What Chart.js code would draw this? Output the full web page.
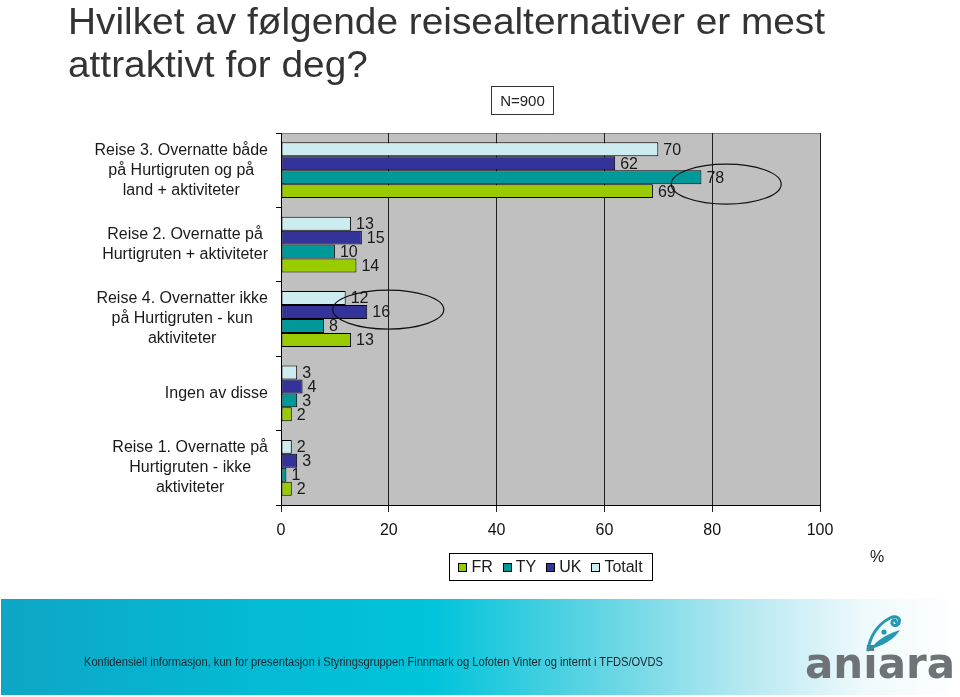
<!DOCTYPE html>
<html>
<head>
<meta charset="utf-8">
<script src="https://cdn.jsdelivr.net/npm/chart.js@4.4.0/dist/chart.umd.min.js"></script>
<style>
  html, body { margin:0; padding:0; background:#fff; }
  body { width:960px; height:697px; position:relative; overflow:hidden; font-family:"Liberation Sans", Arial, sans-serif; }
  #c { position:absolute; left:0; top:0; }
  .title { position:absolute; left:68px; top:0px; font-size:36px; line-height:43px; color:#333; white-space:nowrap; transform-origin:left top; transform:scaleX(1.078); }
  .nbox { position:absolute; left:491px; top:86px; width:61px; height:27px; border:1px solid #333; font-size:15px; line-height:27px; text-align:center; color:#222; }
  .footer { position:absolute; left:1px; top:599px; width:959px; height:96px;
    background:linear-gradient(to right, #0ea6c5 0%, #04b9d3 25%, #00c4da 45%, #5fd4e3 62%, #b8e9f1 78%, #eef9fb 90%, #ffffff 100%); }
  .ftext { position:absolute; left:84px; top:654px; font-size:13px; line-height:15px; color:#1b2630; white-space:nowrap; transform-origin:left top; display:inline-block; }
  .logo { position:absolute; left:805px; top:640px; font-family:"DejaVu Sans", sans-serif; font-weight:bold; font-size:42px; line-height:48px; color:#6e7377; letter-spacing:0px; }
  .swirl { position:absolute; left:864px; top:612px; }
</style>
</head>
<body>
<div class="footer"></div>
<canvas id="c" width="960" height="697"></canvas>
<div class="title">Hvilket av følgende reisealternativer er mest<br>attraktivt for deg?</div>
<div class="nbox">N=900</div>
<span class="ftext" id="ft">Konfidensiell informasjon, kun for presentasjon i Styringsgruppen Finnmark og Lofoten Vinter og internt i TFDS/OVDS</span>
<div class="logo">aniara</div>
<svg class="swirl" width="40" height="40" viewBox="0 0 40 40">
  <path d="M4 38 C 6 24, 14 12, 26 6 C 32 3, 37 6, 35 11 C 33 15, 27 14, 28 10 C 29 7, 32 8, 32 10" fill="none" stroke="#2597b3" stroke-width="3" stroke-linecap="round"/>
  <path d="M6 37 C 16 35, 30 28, 36 18 C 26 21, 15 26, 6 37 Z" fill="#2597b3"/>
  <circle cx="20" cy="20" r="2.6" fill="#2597b3"/>
</svg>
<script>
const categories = [
  ["Reise 3. Overnatte både", "på Hurtigruten og på", "land + aktiviteter"],
  ["Reise 2. Overnatte på", "Hurtigruten + aktiviteter"],
  ["Reise 4. Overnatter ikke", "på Hurtigruten - kun", "aktiviteter"],
  ["Ingen av disse"],
  ["Reise 1. Overnatte på", "Hurtigruten - ikke", "aktiviteter"]
];
const seriesNames = ["Totalt", "UK", "TY", "FR"];
const totalt = [70, 13, 12, 3, 2];
const uk     = [62, 15, 16, 4, 3];
const ty     = [78, 10, 8, 3, 1];
const fr     = [69, 14, 13, 2, 2];
const xTicks = [0, 20, 40, 60, 80, 100];
const colors = ["#CCECF0", "#333399", "#009999", "#99CC00"];
const FONT = '"Liberation Sans", Arial, sans-serif';

// fit footer text width
(function(){
  const ft = document.getElementById('ft');
  const w = ft.getBoundingClientRect().width;
  if (w > 0) ft.style.transform = 'scaleX(' + (579 / w) + ')';
})();

const bgPlugin = {
  id: 'bg',
  beforeDraw(chart) {
    const {ctx, chartArea: a} = chart;
    ctx.save();
    ctx.fillStyle = '#C0C0C0';
    ctx.fillRect(a.left, a.top, a.right - a.left, a.bottom - a.top);
    ctx.strokeStyle = '#808080';
    ctx.lineWidth = 1;
    ctx.beginPath();
    ctx.moveTo(a.left, a.top + 0.5);
    ctx.lineTo(a.right, a.top + 0.5);
    ctx.stroke();
    ctx.restore();
  }
};

const labelPlugin = {
  id: 'labels',
  afterDraw(chart) {
    const {ctx, chartArea: a} = chart;
    const ys = chart.scales.y;
    const xs = chart.scales.x;
    ctx.save();
    ctx.font = '16px ' + FONT;
    ctx.fillStyle = '#1a1a1a';
    ctx.textBaseline = 'middle';
    // category labels (centered blocks, right edge near axis)
    chart.data.labels.forEach((lines, i) => {
      const cy = ys.getPixelForValue(i);
      const widest = Math.max(...lines.map(l => ctx.measureText(l).width));
      const cx = a.left - 13 - widest / 2;
      ctx.textAlign = 'center';
      lines.forEach((l, k) => {
        ctx.fillText(l, cx, cy + (k - (lines.length - 1) / 2) * 20);
      });
    });
    // value labels
    ctx.textAlign = 'left';
    chart.data.datasets.forEach((ds, di) => {
      const meta = chart.getDatasetMeta(di);
      meta.data.forEach((el, i) => {
        ctx.fillText(String(ds.data[i]), el.x + 5, el.y + 1);
      });
    });
    // ellipses (annotations)
    ctx.strokeStyle = '#111';
    ctx.lineWidth = 1.2;
    const tyMeta = chart.getDatasetMeta(2), frMeta = chart.getDatasetMeta(3), ukMeta = chart.getDatasetMeta(1);
    const unit = xs.getPixelForValue(1) - xs.getPixelForValue(0);
    ctx.beginPath();
    ctx.ellipse(xs.getPixelForValue(82.6), (tyMeta.data[0].y + frMeta.data[0].y) / 2, 10.2 * unit, 20, 0, 0, Math.PI * 2);
    ctx.stroke();
    ctx.beginPath();
    ctx.ellipse(xs.getPixelForValue(19.9), ukMeta.data[2].y - 2.5, 10.3 * unit, 19.5, 0, 0, Math.PI * 2);
    ctx.stroke();
    // legend (reversed order: FR, TY, UK, Totalt)
    const order = chart.data.datasets.map((d, i) => i).reverse();
    const sq = 8, gapT = 5, gapI = 10, pad = 9.5;
    let content = 0;
    order.forEach((di, k) => {
      content += sq + gapT + ctx.measureText(chart.data.datasets[di].label).width + (k < order.length - 1 ? gapI : 0);
    });
    const boxW = content + pad * 2;
    const boxL = (a.left + a.right) / 2 - boxW / 2;
    const boxT = 553, boxH = 27, midY = boxT + boxH / 2 + 0.5;
    ctx.strokeStyle = '#000';
    ctx.lineWidth = 1;
    ctx.strokeRect(Math.round(boxL) + 0.5, boxT + 0.5, Math.round(boxW), boxH);
    let x = boxL + pad;
    order.forEach((di) => {
      const ds = chart.data.datasets[di];
      ctx.fillStyle = ds.backgroundColor;
      ctx.fillRect(Math.round(x) + 0.5, Math.round(midY - sq / 2) + 0.5, sq, sq);
      ctx.strokeRect(Math.round(x) + 0.5, Math.round(midY - sq / 2) + 0.5, sq, sq);
      ctx.fillStyle = '#1a1a1a';
      ctx.fillText(ds.label, x + sq + gapT, midY + 1);
      x += sq + gapT + ctx.measureText(ds.label).width + gapI;
    });
    // percent sign
    ctx.fillText('%', a.right + 50, 558);
    ctx.restore();
  }
};

const datasets = [totalt, uk, ty, fr].map((d, i) => ({
  label: seriesNames[i],
  data: d,
  backgroundColor: colors[i],
  borderColor: '#000',
  borderWidth: 1,
  borderSkipped: false,
  categoryPercentage: 0.75,
  barPercentage: 1.0
}));

new Chart(document.getElementById('c'), {
  type: 'bar',
  data: { labels: categories, datasets },
  options: {
    indexAxis: 'y',
    responsive: false,
    animation: false,
    layout: { padding: { top: 133, right: 140, left: 0, bottom: 0 } },
    plugins: { legend: { display: false }, tooltip: { enabled: false }, title: { display: false } },
    scales: {
      x: {
        min: 0, max: 100,
        afterBuildTicks: s => { s.ticks = xTicks.map(v => ({ value: v })); },
        ticks: { font: { size: 16, family: FONT }, color: '#111', padding: 9, maxRotation: 0 },
        grid: { color: '#222', lineWidth: 1, tickLength: 7, drawTicks: true },
        border: { color: '#000', width: 1 },
        afterFit: s => { s.height = 192; }
      },
      y: {
        ticks: { display: false },
        grid: { drawOnChartArea: false, drawTicks: true, tickLength: 5, color: '#000' },
        border: { color: '#000', width: 1 },
        afterFit: s => { s.width = 281; }
      }
    }
  },
  plugins: [bgPlugin, labelPlugin]
});
</script>
</body>
</html>
